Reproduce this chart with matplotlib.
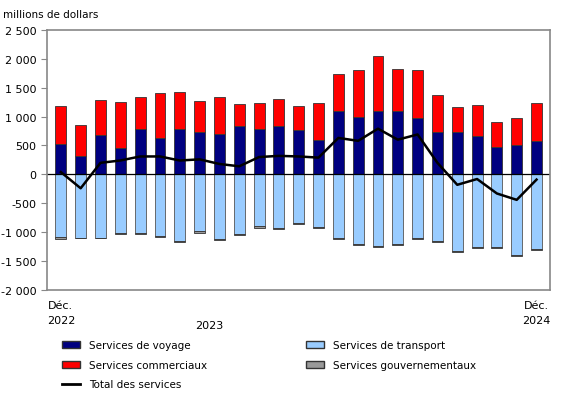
import matplotlib
matplotlib.use("Agg")
import matplotlib.pyplot as plt
import numpy as np
from matplotlib.patches import Patch
from matplotlib.lines import Line2D

voyage = [520,310,680,450,780,630,790,740,690,840,790,830,770,590,1090,1000,1090,1090,970,740,740,660,480,500,570]
top = [1180,850,1290,1250,1340,1410,1420,1270,1330,1220,1240,1300,1180,1230,1740,1800,2040,1820,1800,1380,1160,1200,910,970,1240]
commerciaux = [t - v for t, v in zip(top, voyage)]
transport = [-1090,-1100,-1100,-1020,-1010,-1070,-1150,-980,-1110,-1030,-900,-920,-840,-910,-1100,-1200,-1230,-1200,-1100,-1150,-1320,-1260,-1250,-1400,-1290]
gouv = [-30,-5,-5,-5,-15,-20,-25,-25,-25,-25,-25,-30,-25,-20,-15,-15,-20,-15,-15,-15,-15,-15,-15,-15,-20]
total = [40,-240,200,240,310,310,240,260,180,140,300,320,310,290,630,580,790,600,690,200,-180,-80,-330,-440,-90]

fig = plt.figure(figsize=(5.8, 4.1), dpi=100)
ax = fig.add_axes([0.081, 0.29, 0.868, 0.635])
x = np.arange(len(voyage))
w = 0.55
ec = "#333333"
ax.bar(x, voyage, w, color="#000080", edgecolor=ec, lw=0.6)
ax.bar(x, commerciaux, w, bottom=voyage, color="#ff0000", edgecolor=ec, lw=0.6)
ax.bar(x, transport, w, color="#99ccff", edgecolor="#555555", lw=0.6)
ax.bar(x, gouv, w, bottom=transport, color="#999999", edgecolor=ec, lw=0.6)
ax.plot(x, total, color="black", lw=1.8)
ax.axhline(0, color="black", lw=0.9)
ax.set_xlim(-0.7, len(x) - 0.3)
ax.set_ylim(-2000, 2500)
ticks = list(range(-2000, 2501, 500))
ax.set_yticks(ticks)
ax.set_yticklabels([f"{t:,}".replace(",", "\u00a0") for t in ticks], fontsize=8)
ax.set_xticks([])
for s in ax.spines.values():
    s.set_color("#888888")
    s.set_linewidth(1.2)
ax.tick_params(axis="y", length=4, color="#888888")
fig.text(0.005, 0.975, "millions de dollars", fontsize=7.5, va="top")
ax.text(0, -2170, "Déc.\n2022", ha="center", va="top", fontsize=8, linespacing=1.6)
ax.text(7.5, -2520, "2023", ha="center", va="top", fontsize=8)
ax.text(24, -2170, "Déc.\n2024", ha="center", va="top", fontsize=8, linespacing=1.6)

handles = [Patch(fc="#000080", ec=ec), Patch(fc="#99ccff", ec=ec),
           Patch(fc="#ff0000", ec=ec), Patch(fc="#999999", ec=ec),
           Line2D([], [], color="black", lw=2)]
labels = ["Services de voyage", "Services de transport", "Services commerciaux",
          "Services gouvernementaux", "Total des services"]
order = [0, 2, 4, 1, 3]
fig.legend([handles[i] for i in order], [labels[i] for i in order], ncol=2,
           loc="upper left", bbox_to_anchor=(0.09, 0.19), frameon=False, fontsize=7.5,
           handlelength=1.8, columnspacing=9.5, labelspacing=0.9)
fig.savefig("out.png", dpi=100)
